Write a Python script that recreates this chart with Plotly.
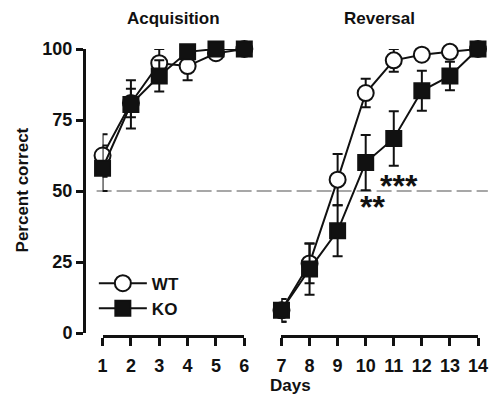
import plotly.graph_objects as go

# Data
acq_days = [1, 2, 3, 4, 5, 6]
rev_days = [7, 8, 9, 10, 11, 12, 13, 14]

wt_acq = [62.5, 81, 95, 94, 98.5, 100]
wt_acq_err = [7.5, 5, 5, 5, 1.5, 0]
ko_acq = [58, 80.5, 90.5, 99, 100, 100]
ko_acq_err = [8, 8.5, 5.5, 1, 0, 0]

wt_rev = [8, 24.5, 54, 84.5, 96, 98, 99, 100]
wt_rev_err = [4, 7, 9, 5, 4, 1, 1, 0]
ko_rev = [8, 22.5, 36, 60, 68.5, 85.3, 90.5, 100]
ko_rev_err = [4, 9, 9, 9.7, 9.6, 7, 5, 0]

y_ticks = [0, 25, 50, 75, 100]
chance_level = 50

FONT = "Arial, Liberation Sans, Helvetica, sans-serif"
BLACK = "#111111"

fig = go.Figure()

def add_series(x, y, err, xaxis, name, symbol, fill, size, showlegend):
    fig.add_trace(go.Scatter(
        x=x, y=y, xaxis=xaxis, yaxis="y",
        mode="lines+markers", name=name, showlegend=showlegend, legendgroup=name,
        line=dict(color=BLACK, width=2),
        marker=dict(symbol=symbol, size=size, color=fill, line=dict(color=BLACK, width=2)),
        error_y=dict(type="data", array=err, visible=True, color=BLACK, thickness=2, width=5),
        cliponaxis=False,
    ))

add_series(acq_days, wt_acq, wt_acq_err, "x", "WT", "circle", "white", 16, True)
add_series(rev_days, wt_rev, wt_rev_err, "x2", "WT", "circle", "white", 16, False)
add_series(acq_days, ko_acq, ko_acq_err, "x", "KO", "square", BLACK, 15, True)
add_series(rev_days, ko_rev, ko_rev_err, "x2", "KO", "square", BLACK, 15, False)

tickfont = dict(family=FONT, size=18, color=BLACK, weight="bold")

# the page adds an 8px body margin, so the figure is 8px smaller than the window
fig.update_layout(
    width=492, height=387,
    margin=dict(l=76, r=13, t=41, b=59),
    paper_bgcolor="white", plot_bgcolor="white",
    font=dict(family=FONT, color=BLACK),
    xaxis=dict(domain=[0.0471, 0.4069], range=[1, 6], anchor="free", position=0,
               tickvals=acq_days, showline=True, linewidth=3, linecolor=BLACK,
               ticks="outside", ticklen=8, tickwidth=3, tickcolor=BLACK,
               showgrid=False, zeroline=False, tickfont=tickfont, ticklabelstandoff=4),
    xaxis2=dict(domain=[0.5012, 1.0], range=[7, 14], anchor="free", position=0,
                tickvals=rev_days, showline=True, linewidth=3, linecolor=BLACK,
                ticks="outside", ticklen=8, tickwidth=3, tickcolor=BLACK,
                showgrid=False, zeroline=False, tickfont=tickfont, ticklabelstandoff=4),
    yaxis=dict(domain=[0.01045, 1], range=[0, 100], anchor="free", position=0,
               tickvals=y_ticks, showline=True, linewidth=3, linecolor=BLACK,
               ticks="outside", ticklen=7, tickwidth=3, tickcolor=BLACK,
               showgrid=False, zeroline=False, tickfont=tickfont),
    legend=dict(x=0.025, y=0.245, xanchor="left", yanchor="top", itemwidth=48,
                font=dict(family=FONT, size=17, color=BLACK, weight="bold"),
                bgcolor="rgba(0,0,0,0)", tracegroupgap=0),
    showlegend=True,
)

fig.add_shape(type="line", xref="paper", yref="y", x0=0.032, x1=1.025,
              y0=chance_level, y1=chance_level,
              line=dict(color="#8a8a8a", width=1.5, dash="15px,5px"), layer="below")

title_font = dict(family=FONT, size=17, color=BLACK, weight="bold")
fig.add_annotation(text="Acquisition", xref="paper", yref="paper", x=0.228, y=1.108,
                   showarrow=False, font=title_font, xanchor="center", yanchor="middle")
fig.add_annotation(text="Reversal", xref="paper", yref="paper", x=0.749, y=1.108,
                   showarrow=False, font=title_font, xanchor="center", yanchor="middle")
fig.add_annotation(text="Days", xref="paper", yref="paper", x=0.524, y=-0.171,
                   showarrow=False, font=title_font, xanchor="center", yanchor="middle")
fig.add_annotation(text="Percent correct", xref="paper", yref="paper", x=-0.156, y=0.509,
                   showarrow=False, font=title_font, textangle=-90,
                   xanchor="center", yanchor="middle")

star_font = dict(family=FONT, size=32, color=BLACK, weight="bold")
fig.add_annotation(text="***", xref="x2", yref="y", x=11, y=53.6, showarrow=False,
                   font=star_font, xanchor="center", yanchor="middle", yshift=-5, xshift=5)
fig.add_annotation(text="**", xref="x2", yref="y", x=10.05, y=46, showarrow=False,
                   font=star_font, xanchor="center", yanchor="middle", yshift=-5, xshift=5)

fig.write_html("out.html")
